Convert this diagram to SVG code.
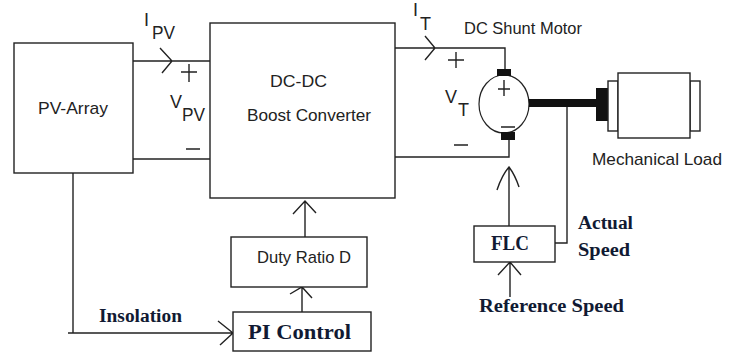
<svg xmlns="http://www.w3.org/2000/svg" width="736" height="353" viewBox="0 0 736 353">
<style>
.b{fill:#fff;stroke:#222;stroke-width:1.4}
.l{fill:none;stroke:#222;stroke-width:1.4}
.k{fill:#111}
text{font-family:"Liberation Sans",Arial,sans-serif;fill:#222}
.t{font-size:17px}
.s{font-size:18px}
.r{font-family:"Liberation Serif","Times New Roman",serif;font-weight:bold;fill:#111a33}
</style>
<rect width="736" height="353" fill="#fff"/>
<g id="connectors">
<path class="l" d="M133 61H210M160 48L172 61L162 73"/>
<path class="l" d="M133 159H210"/>
<path class="l" d="M395 48H505V70M425 36L435 48L425 60"/>
<path class="l" d="M395 157H509V140"/>
<path class="l" d="M73 173V333M68 333H233M218 321L233 333L220 345"/>
<path class="l" d="M302 312V287M290 294L302 287L312 298"/>
<path class="l" d="M305 240V201M293 214L305 201L316 213"/>
<path class="l" d="M509 226V167M497 190Q502 175 509 167Q515 175 519 187"/>
<path class="l" d="M510 297V262M498 275L510 262L521 275"/>
<path class="l" d="M555 243H567V107"/>
</g>
<g id="pv-array"><rect class="b" x="14" y="43" width="119" height="130"/><text class="t" x="38" y="114" textLength="70" lengthAdjust="spacingAndGlyphs">PV-Array</text></g>
<g id="boost-converter"><rect class="b" x="210" y="23" width="185" height="175"/><text class="t" x="270" y="87" textLength="57" lengthAdjust="spacingAndGlyphs">DC-DC</text><text class="t" x="247" y="121" textLength="124" lengthAdjust="spacingAndGlyphs">Boost Converter</text></g>
<g id="duty-ratio"><rect class="b" x="231" y="237" width="136" height="50"/><text class="t" x="257" y="263" textLength="94" lengthAdjust="spacingAndGlyphs">Duty Ratio D</text></g>
<g id="pi-control"><rect class="b" x="233" y="312" width="138" height="39"/><text class="r" x="248" y="339" font-size="20" textLength="103" lengthAdjust="spacingAndGlyphs">PI Control</text></g>
<g id="flc"><rect class="b" x="474" y="226" width="81" height="36"/><text class="r" x="491" y="250" font-size="20" textLength="38" lengthAdjust="spacingAndGlyphs">FLC</text></g>
<g id="motor">
<ellipse cx="504" cy="104" rx="25" ry="29" fill="#fff" stroke="#222" stroke-width="1.2"/>
<rect class="k" x="497" y="69" width="14" height="7"/>
<rect class="k" x="501" y="132" width="14" height="8"/>
<path class="l" d="M504 80V96M498 89H510M501 127H515"/>
<text class="t" x="464" y="34" textLength="118" lengthAdjust="spacingAndGlyphs">DC Shunt Motor</text>
</g>
<g id="mechanical-load">
<rect class="k" x="529" y="99" width="67" height="8"/>
<rect class="k" x="596" y="88" width="12" height="33"/>
<rect class="b" x="608" y="81" width="10" height="50"/>
<rect class="b" x="690" y="81" width="10" height="50"/>
<rect class="b" x="618" y="73" width="72" height="65"/>
<text class="t" x="592" y="165" textLength="130" lengthAdjust="spacingAndGlyphs">Mechanical Load</text>
</g>
<g id="labels">
<text class="s" x="144" y="26">I</text><text class="s" x="152" y="39" textLength="23" lengthAdjust="spacingAndGlyphs">PV</text>
<text class="s" x="170" y="108" textLength="12" lengthAdjust="spacingAndGlyphs">V</text><text class="s" x="182" y="121" textLength="23" lengthAdjust="spacingAndGlyphs">PV</text>
<text class="s" x="413" y="16">I</text><text class="s" x="420" y="30">T</text>
<text class="s" x="445" y="103" textLength="12" lengthAdjust="spacingAndGlyphs">V</text><text class="s" x="458" y="116">T</text>
<path class="l" d="M181 72H197M189 64V82M186 149H200M448 60H464M456 52V68M454 145H468"/>
<text class="r" x="99" y="322" font-size="18" textLength="83" lengthAdjust="spacingAndGlyphs">Insolation</text>
<text class="r" x="578" y="229" font-size="18" textLength="55" lengthAdjust="spacingAndGlyphs">Actual</text>
<text class="r" x="578" y="256" font-size="18" textLength="52" lengthAdjust="spacingAndGlyphs">Speed</text>
<text class="r" x="479" y="312" font-size="18" textLength="145" lengthAdjust="spacingAndGlyphs">Reference Speed</text>
</g>
</svg>
